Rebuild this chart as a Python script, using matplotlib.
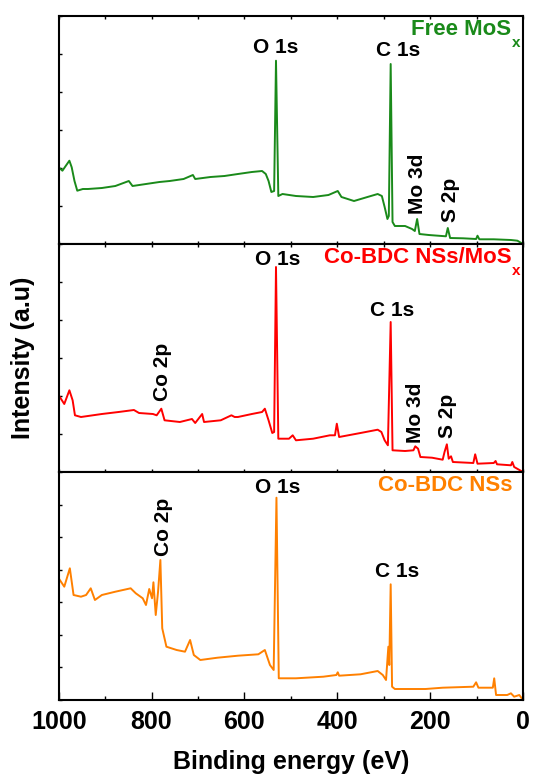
import matplotlib
matplotlib.use("Agg")
import matplotlib.pyplot as plt
from matplotlib import font_manager
from matplotlib.ticker import MultipleLocator

# ---------------- data ----------------
free_mos_energy = [1000, 992, 985, 977, 972, 966, 960, 948, 937, 907, 878, 849, 841, 812, 783,
                   761, 731, 711, 706, 673, 643, 614, 584, 562, 554, 548, 542, 536, 532, 527,
                   518, 489, 452, 419, 399, 391, 364, 335, 313, 304, 298, 292, 289, 285, 281,
                   276, 254, 239, 233, 228, 223, 203, 166, 162, 157, 129, 101, 98, 94, 63,
                   26, 12, 0]
free_mos_intensity = [76.7, 73.3, 78, 83.3, 76.7, 63, 53.3, 55, 55, 56, 58, 63, 58, 60, 62,
                      63, 65, 69, 65, 67, 68, 70, 72, 73, 70, 63, 52, 53, 183.3, 48,
                      50, 48, 47, 49, 53, 47, 43, 47, 50, 48, 37, 25, 28, 180, 22,
                      18, 18, 15, 13, 25, 10, 9, 7.7, 16, 6, 5.7, 5, 8.3, 4.7, 4.7,
                      4, 3.3, 0]

hybrid_energy = [1000, 988, 977, 970, 965, 952, 907, 871, 838, 827, 797, 789, 779, 772, 739,
                 713, 706, 691, 687, 651, 628, 621, 614, 584, 562, 556, 548, 540, 536, 532,
                 527, 504, 496, 489, 452, 416, 405, 401, 396, 350, 313, 305, 298, 291, 285,
                 281, 254, 236, 232, 226, 221, 196, 173, 169, 164, 160, 155, 151, 107, 103,
                 98, 63, 59, 56, 26, 23, 19, 0]
hybrid_intensity = [76.7, 68, 81.7, 71.7, 56.7, 55, 58, 60, 62, 59, 58, 56.7, 63.3, 51.7, 50,
                    53, 49, 58, 50, 51.7, 56.7, 55, 55, 58, 60, 63.3, 51.7, 39, 40, 205,
                    33.3, 33.3, 36.7, 31.7, 33.3, 36.7, 36.7, 48.3, 35, 39, 42.3, 40, 31.7, 26.7, 150,
                    21.7, 21, 21.7, 25.7, 23.3, 15, 14.3, 12.3, 20, 27.7, 13.3, 15.7, 10, 9, 17.7,
                    8.3, 9, 11, 7.7, 6.7, 10, 5, 0]

cobdc_energy = [1000, 988, 976, 968, 952, 941, 931, 922, 907, 878, 845, 834, 819, 812, 805,
                799, 796, 791, 786, 781, 777, 768, 746, 728, 717, 709, 695, 658, 614, 570,
                556, 545, 537, 531, 526, 489, 430, 402, 399, 396, 350, 313, 302, 295, 290,
                288, 285, 282, 276, 210, 173, 107, 101, 96, 70, 65, 62, 58, 34, 26,
                19, 8, 0]
cobdc_intensity = [121.7, 113.3, 131.7, 105, 103.3, 105, 111.7, 100, 105, 108.3, 111.7, 106.7, 101.7, 95, 111,
                   101.7, 117.7, 85, 108.3, 140, 71.7, 53.3, 50, 48.3, 60, 45, 40, 42.3, 44.3, 45.7,
                   50, 35, 30, 202.3, 21.7, 21.7, 23.3, 25, 27.7, 24.3, 25.7, 29, 25, 20, 53.3,
                   35, 115.7, 13.3, 11, 11, 12.3, 13.3, 17.7, 12.3, 12.3, 12.3, 21.7, 5, 5, 6.7,
                   3.3, 5, 0]

sample_names = ["Free MoS", "Co-BDC NSs/MoS", "Co-BDC NSs"]
sample_subscripts = ["x", "x", ""]
sample_colors = ["#1a8a1a", "#ff0000", "#ff8000"]

# peak labels per panel: (label, energy, intensity at label foot, rotated?)
free_mos_labels = [("O 1s", 533, 190.7, False), ("C 1s", 269, 188, False),
                   ("Mo 3d", 228, 30, True), ("S 2p", 157, 21.7, True)]
hybrid_labels = [("O 1s", 529, 207.5, False), ("C 1s", 282, 156.5, False),
                 ("Co 2p", 777, 70.8, True), ("Mo 3d", 231, 29.2, True), ("S 2p", 162, 34.2, True)]
cobdc_labels = [("O 1s", 529, 206.7, False), ("C 1s", 271, 123.3, False),
                ("Co 2p", 775, 144.3, True)]

x_ticks = [1000, 800, 600, 400, 200, 0]
x_label = "Binding energy (eV)"
y_label = "Intensity (a.u)"

# ---------------- style ----------------
names = {f.name for f in font_manager.fontManager.ttflist}
base = "Liberation Sans" if "Liberation Sans" in names else "DejaVu Sans"

plt.rcParams["font.family"] = [base, "DejaVu Sans"]
plt.rcParams["font.weight"] = "bold"

W, H = 533, 781
fig = plt.figure(figsize=(W / 100, H / 100), dpi=100)

left_px, right_px = 58.7, 523.0
top_px, bottom_px = 16.0, 700.0
ph = (bottom_px - top_px) / 3

series = [
    (free_mos_energy, free_mos_intensity, free_mos_labels, 38.0),
    (hybrid_energy, hybrid_intensity, hybrid_labels, 38.0),
    (cobdc_energy, cobdc_intensity, cobdc_labels, 228.0 / 7),
]

for i, (en, it, labels, ystep) in enumerate(series):
    ax_top = top_px + i * ph
    ax = fig.add_axes([left_px / W, 1 - (ax_top + ph) / H,
                       (right_px - left_px) / W, ph / H])
    ax.plot(en, it, color=sample_colors[i], lw=1.4)
    ax.set_xlim(1000, 0)
    ax.set_ylim(0, 228)
    ax.xaxis.set_major_locator(MultipleLocator(200))
    ax.xaxis.set_minor_locator(MultipleLocator(100))
    ax.yaxis.set_major_locator(MultipleLocator(ystep))
    ax.tick_params(axis="y", which="both", direction="in", length=2.5, width=1,
                   left=True, right=False, labelleft=False)
    for s in ax.spines.values():
        s.set_linewidth(1.5)
    if i < 2:
        ax.tick_params(axis="x", which="both", direction="in", length=2.5, width=1,
                       top=True, bottom=True, labelbottom=False)
    else:
        ax.tick_params(axis="x", which="major", direction="in", length=6, width=1,
                       top=False, bottom=True, pad=7)
        ax.tick_params(axis="x", which="minor", direction="in", length=3, width=1,
                       top=False, bottom=True)
        ax.set_xticks(x_ticks)
        ax.set_xticklabels([str(v) for v in x_ticks], fontsize=18, fontweight="bold")
        ax.set_xlabel(x_label, fontsize=18, fontweight="bold", labelpad=12)
    for lab, e, y, rot in labels:
        if rot:
            ax.text(e, y, lab, rotation=90, ha="center", va="bottom",
                    fontsize=15, fontweight="bold", color="black")
        else:
            ax.text(e, y, lab, ha="center", va="baseline",
                    fontsize=15, fontweight="bold", color="black")
    # sample name with a low subscript, right-aligned in the panel corner
    sub = sample_subscripts[i]
    if sub:
        ax.annotate(sub, xy=(0.995, 0.985), xycoords="axes fraction",
                    xytext=(0, -12), textcoords="offset points", ha="right", va="top",
                    fontsize=11, fontweight="bold", color=sample_colors[i])
        ax.annotate(sample_names[i], xy=(0.995, 0.985), xycoords="axes fraction",
                    xytext=(-6.8, 0), textcoords="offset points", ha="right", va="top",
                    fontsize=16, fontweight="bold", color=sample_colors[i])
    else:
        ax.text(0.978, 0.985, sample_names[i], transform=ax.transAxes, ha="right", va="top",
                fontsize=16, fontweight="bold", color=sample_colors[i])

fig.text(23.5 / W, 1 - 358 / H, y_label, rotation=90, ha="center", va="center",
         fontsize=18, fontweight="bold")

fig.savefig("out.png", dpi=100)
